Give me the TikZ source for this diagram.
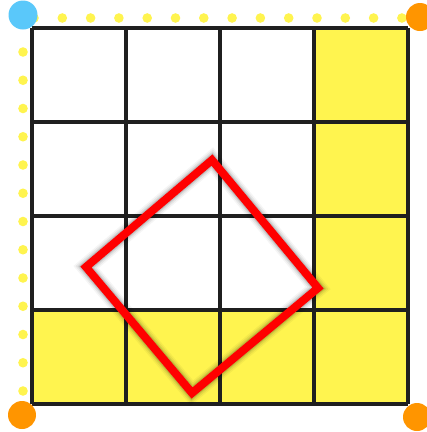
\documentclass[tikz,border=0pt]{standalone}
\usepackage{tikz}
\usepackage{xcolor}
\definecolor{cellyellow}{HTML}{FFF44F}
\definecolor{cornerblue}{HTML}{5AC8FA}
\definecolor{cornerorange}{HTML}{FF9500}

\begin{document}
\begin{tikzpicture}[x=1pt, y=-1pt,
    gridline/.style={line width=3.2pt, black!88},
    dotmark/.style={fill=cellyellow},
    corner/.style={fill=#1},
    tilt/.style={line width=8pt, red, line join=miter}]
\useasboundingbox (0,0) rectangle (427,432);
\fill[white] (0,0) rectangle (427,432);
% yellow cells: right column and bottom row
\foreach \r in {0,1,2}
    \fill[cellyellow] (315, 28+94*\r) rectangle +(94,94);
\foreach \c in {0,1,2,3}
    \fill[cellyellow] (32+94*\c, 310) rectangle +(94,94);
% dotted border
\foreach \k in {0,...,13}
    \fill[dotmark] (34+28.3*\k, 18) circle (4.8);
\foreach \k in {0,...,12}
    \fill[dotmark] (23, 52+28.25*\k) circle (4.8);
% grid
\foreach \i in {0,...,4} {
    \draw[gridline] (32+94*\i, 28) -- (32+94*\i, 404);
    \draw[gridline] (32, 28+94*\i) -- (408, 28+94*\i);
}
% rotated square with soft shadow
\coordinate (top) at (212,160);
\coordinate (right) at (318,288);
\coordinate (bottom) at (192,393);
\coordinate (left) at (86,267);
\foreach \w/\a in {18/0.04,15/0.06,12/0.08,10/0.1}
    \draw[black, opacity=\a, line width=\w pt, line join=miter, shift={(2,3)}]
        (top) -- (right) -- (bottom) -- (left) -- cycle;
\draw[tilt] (top) -- (right) -- (bottom) -- (left) -- cycle;
% corners
\fill[corner=cornerblue] (23,15) circle (14.5);
\fill[corner=cornerorange] (420,17) circle (14);
\fill[corner=cornerorange] (22,415) circle (14);
\fill[corner=cornerorange] (417,417) circle (14);
\end{tikzpicture}
\end{document}
